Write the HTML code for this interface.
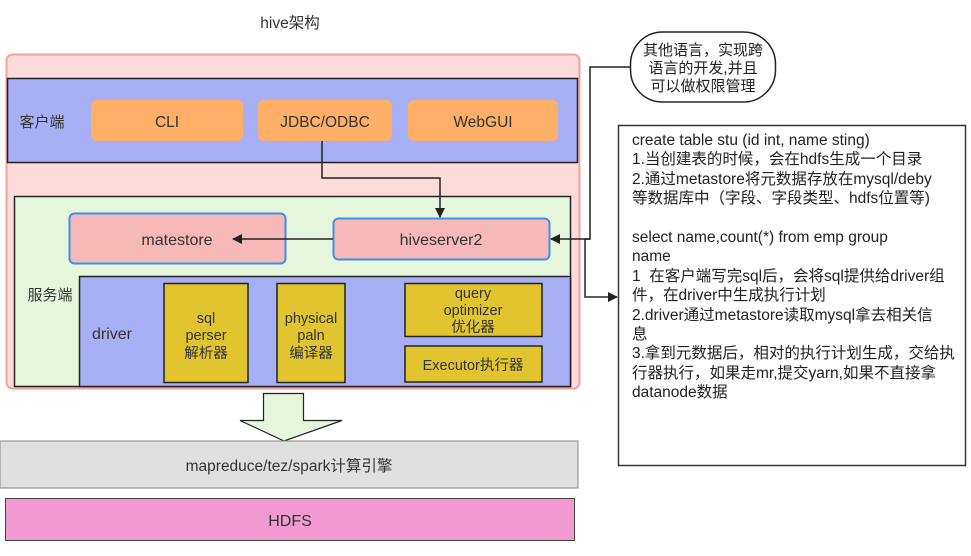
<!DOCTYPE html>
<html><head><meta charset="utf-8"><style>
body{margin:0;background:#fff;width:971px;height:556px;overflow:hidden;font-family:"Liberation Sans","Noto Sans CJK SC",sans-serif;}
.t{position:absolute;left:632px;top:131px;width:330px;white-space:nowrap;font-size:15.5px;line-height:19.4px;color:#222;}
</style></head><body>
<svg width="971" height="556" style="position:absolute;left:0;top:0" font-family="Liberation Sans, Noto Sans CJK SC, sans-serif">
<defs><marker id="a" markerWidth="10" markerHeight="10" refX="9" refY="5" orient="auto" markerUnits="userSpaceOnUse"><path d="M0,0 L10,5 L0,10 Z" fill="#222"/></marker></defs>
<text x="290" y="28" font-size="15.5" text-anchor="middle" fill="#333">hive架构</text>
<rect x="6.5" y="54.5" width="573" height="334" rx="6" fill="#fcdcdb" stroke="#f5a0a0" stroke-width="2"/>
<rect x="7.5" y="78.5" width="570" height="84" fill="#a7aff5" stroke="#222" stroke-width="1.5"/>
<text x="42" y="127" font-size="15" text-anchor="middle" fill="#333">客户端</text>
<rect x="91" y="100" width="152" height="41" rx="6" fill="#ffb066"/>
<text x="167" y="127" font-size="15.5" text-anchor="middle" fill="#333">CLI</text>
<rect x="258" y="100" width="134" height="41" rx="6" fill="#ffb066"/>
<text x="325" y="127" font-size="15.5" text-anchor="middle" fill="#333">JDBC/ODBC</text>
<rect x="408" y="100" width="150" height="41" rx="6" fill="#ffb066"/>
<text x="483" y="127" font-size="15.5" text-anchor="middle" fill="#333">WebGUI</text>
<rect x="14.5" y="196.5" width="556" height="190" fill="#e6f6dc" stroke="#222" stroke-width="1.5"/>
<text x="50" y="300" font-size="15" text-anchor="middle" fill="#333">服务端</text>
<rect x="69.5" y="213.5" width="216" height="50" rx="5" fill="#f6b9b8" stroke="#3d8fe8" stroke-width="2"/>
<text x="177" y="245" font-size="16" text-anchor="middle" fill="#333">matestore</text>
<rect x="333.5" y="218.5" width="216" height="41" rx="5" fill="#f6b9b8" stroke="#3d8fe8" stroke-width="2"/>
<text x="441" y="245" font-size="16" text-anchor="middle" fill="#333">hiveserver2</text>
<rect x="79.5" y="276.5" width="491" height="110" fill="#a7aff5" stroke="#222" stroke-width="1.5"/>
<text x="112" y="339" font-size="16" text-anchor="middle" fill="#333">driver</text>
<g fill="#e2c42f" stroke="#222" stroke-width="1.5">
<rect x="164" y="283.5" width="84" height="99"/>
<rect x="277" y="283.5" width="68" height="99"/>
<rect x="405" y="283.5" width="137" height="53"/>
<rect x="405" y="346" width="137" height="36"/>
</g>
<g font-size="14.5" text-anchor="middle" fill="#333">
<text x="206" y="323">sql</text><text x="206" y="340">perser</text><text x="206" y="358">解析器</text>
<text x="311" y="323">physical</text><text x="311" y="340">paln</text><text x="311" y="358">编译器</text>
<text x="473" y="298">query</text><text x="473" y="315">optimizer</text><text x="473" y="332">优化器</text>
<text x="473" y="370">Executor执行器</text>
</g>
<polyline points="322,141 322,178 440,178 440,217" fill="none" stroke="#222" stroke-width="1.5" marker-end="url(#a)"/>
<line x1="333" y1="239" x2="233" y2="239" stroke="#222" stroke-width="1.5" marker-end="url(#a)"/>
<polyline points="630,67 590,67 590,239 551,239" fill="none" stroke="#222" stroke-width="1.5" marker-end="url(#a)"/>
<polyline points="590,239 585,239 585,297 617,297" fill="none" stroke="#222" stroke-width="1.5" marker-end="url(#a)"/>
<rect x="630.5" y="32" width="145" height="70" rx="32" fill="#fff" stroke="#222" stroke-width="1.5"/>
<g font-size="15" text-anchor="middle" fill="#222">
<text x="703" y="55">其他语言，实现跨</text><text x="703" y="73">语言的开发,并且</text><text x="703" y="91">可以做权限管理</text>
</g>
<rect x="618.5" y="125.5" width="347" height="340" fill="#fff" stroke="#333" stroke-width="1.5"/>
<path d="M263.5,393.5 H303.5 V420.5 H342 L284,441 L240,420.5 H263.5 Z" fill="#e6f6dc" stroke="#222" stroke-width="1.2"/>
<rect x="0" y="441" width="578" height="47" fill="#e0e0e0" stroke="#888" stroke-width="1"/>
<text x="289" y="471" font-size="15.5" text-anchor="middle" fill="#333">mapreduce/tez/spark计算引擎</text>
<rect x="5.5" y="498.5" width="569" height="42" fill="#f29bd0" stroke="#444" stroke-width="1"/>
<text x="290" y="526" font-size="16" text-anchor="middle" fill="#333">HDFS</text>
</svg>
<div class="t">create table stu (id int, name sting)<br>1.当创建表的时候，会在hdfs生成一个目录<br>2.通过metastore将元数据存放在mysql/deby<br>等数据库中（字段、字段类型、hdfs位置等)<br><br>select name,count(*) from emp group<br>name<br>1&nbsp; 在客户端写完sql后，会将sql提供给driver组<br>件，在driver中生成执行计划<br>2.driver通过metastore读取mysql拿去相关信<br>息<br>3.拿到元数据后，相对的执行计划生成，交给执<br>行器执行，如果走mr,提交yarn,如果不直接拿<br>datanode数据</div>
</body></html>
